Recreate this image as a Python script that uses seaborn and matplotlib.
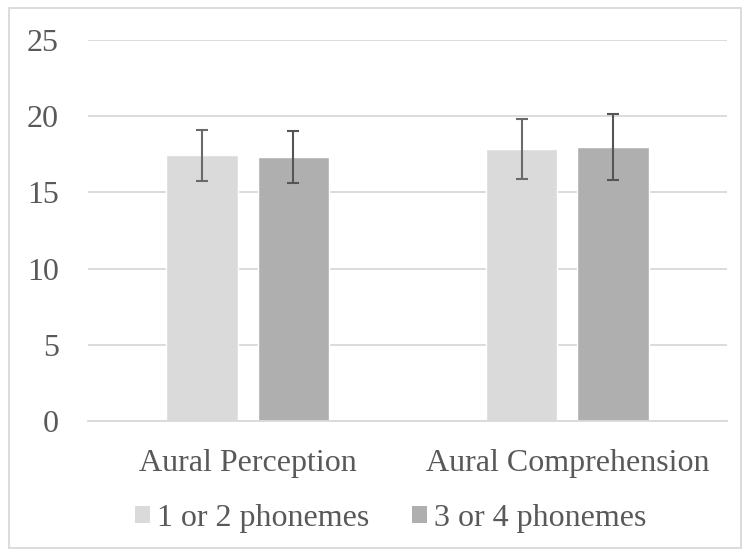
import matplotlib
matplotlib.use("Agg")
import matplotlib.pyplot as plt
import seaborn as sns
import pandas as pd
from matplotlib.patches import Rectangle, Patch

categories = ["Aural Perception", "Aural Comprehension"]
groups = ["1 or 2 phonemes", "3 or 4 phonemes"]
means_12 = [17.43, 17.83]
means_34 = [17.30, 18.00]
err_12 = [1.66, 1.98]
err_34 = [1.70, 2.17]

colors = ["#dadada", "#afafaf"]
err_colors = ["#6a6a6a", "#555555"]
text_color = "#595959"

rows = []
for g, means in zip(groups, [means_12, means_34]):
    for c, m in zip(categories, means):
        rows.append({"Category": c, "Group": g, "Score": m})
df = pd.DataFrame(rows)

sns.set_theme(style="white")
plt.rcParams["font.family"] = ["Liberation Serif", "DejaVu Serif"]

fig = plt.figure(figsize=(7.45, 5.54), dpi=100)
ax = fig.add_axes([0.118, 0.240, 0.858, 0.688])

sns.barplot(data=df, x="Category", y="Score", hue="Group", order=categories,
            hue_order=groups, palette=colors, width=0.573, gap=0.218,
            errorbar=None, saturation=1, ax=ax, legend=False)

# error bars at bar centres
for gi, (means, errs) in enumerate([(means_12, err_12), (means_34, err_34)]):
    patches = ax.patches[gi * len(categories):(gi + 1) * len(categories)]
    xs = [p.get_x() + p.get_width() / 2 for p in patches]
    ax.errorbar(xs, means, yerr=errs, fmt="none", ecolor=err_colors[gi],
                elinewidth=1.5, capsize=4.5, capthick=1.5, zorder=5)

ax.set_ylim(0, 25)
ax.set_xlim(-0.5, 1.5)
ax.set_yticks([0, 5, 10, 15, 20, 25])
ax.yaxis.grid(True, color="#d9d9d9", linewidth=1.3)
ax.set_axisbelow(True)
for s in ["left", "right", "top"]:
    ax.spines[s].set_visible(False)
ax.spines["bottom"].set_color("#d9d9d9")
ax.spines["bottom"].set_linewidth(1.3)
ax.set_xlabel("")
ax.set_ylabel("")
ax.tick_params(axis="both", length=0, labelsize=23, labelcolor=text_color)
ax.tick_params(axis="y", pad=21)
ax.tick_params(axis="x", pad=20)

handles = [Patch(facecolor=c, edgecolor="none") for c in colors]
fig.legend(handles, groups, loc="center", bbox_to_anchor=(0.5245, 0.064),
           ncol=2, frameon=False, fontsize=23, labelcolor=text_color,
           handlelength=0.47, handleheight=0.47, handletextpad=0.22,
           columnspacing=1.35)

fig.patches.append(Rectangle((0.012, 0.010), 0.983, 0.975, transform=fig.transFigure,
                             fill=False, edgecolor="#d9d9d9", linewidth=1.3))

fig.savefig("out.png", dpi=100)
